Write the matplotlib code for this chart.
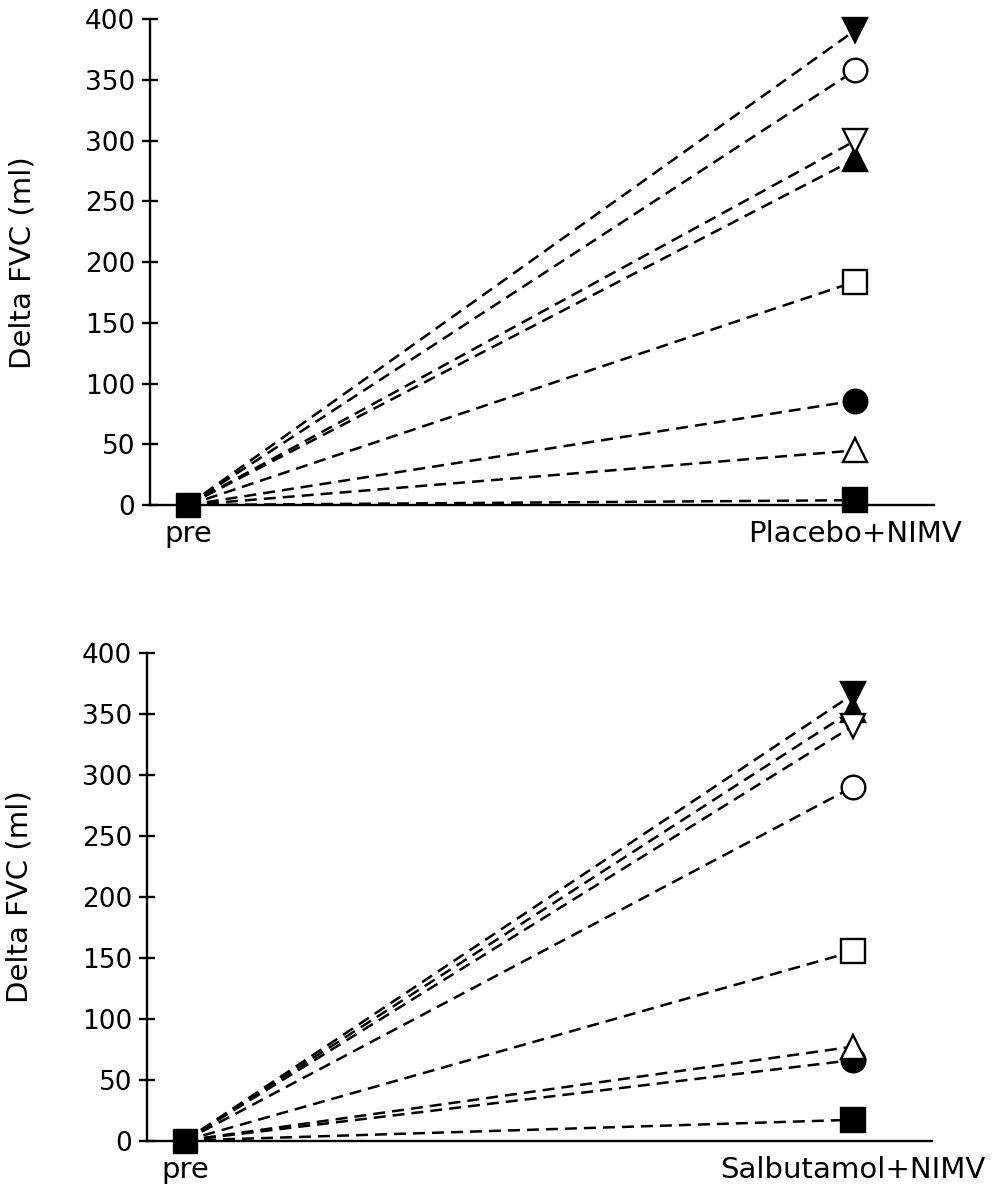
import matplotlib
matplotlib.use('Agg')
import matplotlib.pyplot as plt

# Delta FVC (ml) per subject, "pre" is 0 for everyone
markers = ['v', 'o', 'v', '^', 's', 'o', '^', 's']
filled = [True, False, False, True, False, True, False, True]

placebo = [391, 358, 300, 285, 184, 86, 45, 4]
salbutamol = [366, 290, 340, 353, 155, 66, 77, 17]

# draw order per panel so the overlaps look like the original
order_top = [0, 1, 3, 2, 4, 5, 6, 7]
order_bottom = [0, 3, 2, 1, 4, 5, 6, 7]

x_labels_top = ['pre', 'Placebo+NIMV']
x_labels_bottom = ['pre', 'Salbutamol+NIMV']
y_ticks = [0, 50, 100, 150, 200, 250, 300, 350, 400]

plt.rcParams['font.family'] = ['DejaVu Sans']

fig = plt.figure(figsize=(10, 11.92), dpi=100)
ax1 = fig.add_axes([0.150, 0.5763, 0.784, 0.4075])
ax2 = fig.add_axes([0.147, 0.0432, 0.785, 0.4092])


def draw_panel(ax, values, order, xlabels):
    for i in order:
        face = 'black' if filled[i] else 'white'
        ax.plot([0, 1], [0, values[i]], color='black', lw=1.8,
                linestyle=(0, (4.8, 2.8)), zorder=2)
        ax.plot([1], [values[i]], linestyle='none', marker=markers[i],
                markersize=17, markerfacecolor=face, markeredgecolor='black',
                markeredgewidth=1.7, zorder=3, clip_on=False)
    # the "pre" point
    ax.plot([0], [0], linestyle='none', marker='s', markersize=17,
            color='black', zorder=4, clip_on=False)

    ax.set_xlim(-0.057, 1.118)
    ax.set_ylim(0, 400)
    ax.set_yticks(y_ticks)
    ax.set_xticks([0, 1])
    ax.set_xticklabels(xlabels)
    ax.spines['top'].set_visible(False)
    ax.spines['right'].set_visible(False)
    ax.spines['left'].set_linewidth(1.7)
    ax.spines['bottom'].set_linewidth(1.7)
    ax.tick_params(axis='y', direction='inout', length=11, width=1.7,
                   labelsize=19, pad=5)
    ax.tick_params(axis='x', length=0, labelsize=21, pad=11)
    ax.set_ylabel('Delta FVC (ml)', fontsize=21)
    ax.yaxis.set_label_coords(-0.145, 0.5)


draw_panel(ax1, placebo, order_top, x_labels_top)
draw_panel(ax2, salbutamol, order_bottom, x_labels_bottom)

fig.savefig('out.png', dpi=100)
